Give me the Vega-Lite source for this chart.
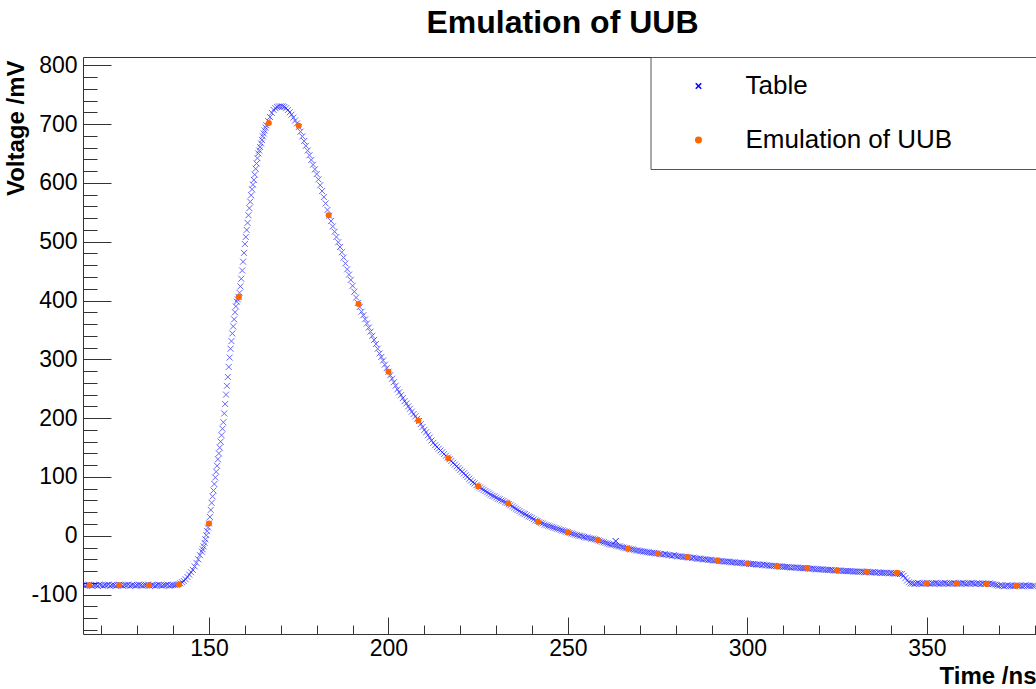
{
  "$schema": "https://vega.github.io/schema/vega-lite/v6.json",
  "autosize": "none",
  "width": 953,
  "height": 577,
  "padding": {"left": 83, "top": 57, "right": 0, "bottom": 55},
  "background": "white",
  "config": {
    "view": {"stroke": null},
    "font": "Liberation Sans",
    "axis": {"grid": false, "domainColor": "#333", "tickColor": "#333", "labelColor": "#000", "titleColor": "#000", "labelFont": "Liberation Sans", "titleFont": "Liberation Sans"}
  },
  "title": {
    "text": "Emulation of UUB",
    "anchor": "middle",
    "frame": "group",
    "font": "Liberation Sans",
    "fontSize": 32,
    "fontWeight": "bold",
    "color": "#000",
    "baseline": "alphabetic",
    "offset": 24,
    "dx": 3,
    "dy": 35
  },
  "datasets": {
    "table": [
      {"t":115,"v":-84},{"t":115.5,"v":-85},{"t":116,"v":-84},{"t":116.5,"v":-83},{"t":117,"v":-84},{"t":117.5,"v":-85},{"t":118,"v":-84},{"t":118.5,"v":-84},{"t":119,"v":-85},{"t":119.5,"v":-83},
      {"t":120,"v":-84},{"t":120.5,"v":-85},{"t":121,"v":-84},{"t":121.5,"v":-84},{"t":122,"v":-83},{"t":122.5,"v":-85},{"t":123,"v":-84},{"t":123.5,"v":-84},{"t":124,"v":-85},{"t":124.5,"v":-84},
      {"t":125,"v":-83},{"t":125.5,"v":-84},{"t":126,"v":-85},{"t":126.5,"v":-84},{"t":127,"v":-84},{"t":127.5,"v":-83},{"t":128,"v":-85},{"t":128.5,"v":-84},{"t":129,"v":-84},{"t":129.5,"v":-85},
      {"t":130,"v":-84},{"t":130.5,"v":-83},{"t":131,"v":-84},{"t":131.5,"v":-85},{"t":132,"v":-84},{"t":132.5,"v":-84},{"t":133,"v":-83},{"t":133.5,"v":-85},{"t":134,"v":-84},{"t":134.5,"v":-84},
      {"t":135,"v":-85},{"t":135.5,"v":-84},{"t":136,"v":-83},{"t":136.5,"v":-84},{"t":137,"v":-85},{"t":137.5,"v":-84},{"t":138,"v":-84},{"t":138.5,"v":-83},{"t":139,"v":-85},{"t":139.5,"v":-84},
      {"t":140,"v":-84},{"t":140.5,"v":-84},{"t":141,"v":-83},{"t":141.5,"v":-82},{"t":142,"v":-81},{"t":142.5,"v":-79},{"t":143,"v":-77},{"t":143.5,"v":-74},{"t":144,"v":-70},{"t":144.5,"v":-66},
      {"t":145,"v":-62},{"t":145.5,"v":-58},{"t":146,"v":-52},{"t":146.5,"v":-46},{"t":147,"v":-40},{"t":147.5,"v":-33},{"t":148,"v":-27},
      {"t":148.25,"v":-23},{"t":148.5,"v":-18},{"t":148.75,"v":-12},{"t":149,"v":-6},{"t":149.25,"v":1},{"t":149.5,"v":8},{"t":149.75,"v":14},
      {"t":150,"v":21},{"t":150.25,"v":32},{"t":150.5,"v":44},{"t":150.75,"v":56},{"t":151,"v":67},{"t":151.25,"v":77},{"t":151.5,"v":88},{"t":151.75,"v":99},
      {"t":152,"v":109},{"t":152.25,"v":119},{"t":152.5,"v":130},{"t":152.75,"v":140},{"t":153,"v":150},{"t":153.25,"v":160},{"t":153.5,"v":171},{"t":153.75,"v":182},
      {"t":154,"v":193},{"t":154.25,"v":208},{"t":154.5,"v":224},{"t":154.75,"v":240},{"t":155,"v":255},{"t":155.25,"v":270},{"t":155.5,"v":287},{"t":155.75,"v":303},
      {"t":156,"v":318},{"t":156.25,"v":331},{"t":156.5,"v":344},{"t":156.75,"v":356},{"t":157,"v":368},{"t":157.25,"v":380},{"t":157.5,"v":390},{"t":157.75,"v":398},
      {"t":158,"v":402},{"t":158.25,"v":406},{"t":158.5,"v":413},{"t":158.75,"v":424},{"t":159,"v":437},{"t":159.25,"v":451},{"t":159.5,"v":466},{"t":159.75,"v":481},
      {"t":160,"v":496},{"t":160.25,"v":508},{"t":160.5,"v":520},{"t":160.75,"v":532},{"t":161,"v":545},{"t":161.25,"v":557},{"t":161.5,"v":568},{"t":161.75,"v":579},
      {"t":162,"v":589},{"t":162.25,"v":597},{"t":162.5,"v":605},{"t":162.75,"v":614},{"t":163,"v":624},{"t":163.25,"v":633},{"t":163.5,"v":642},{"t":163.75,"v":650},
      {"t":164,"v":655},{"t":164.25,"v":661},{"t":164.5,"v":667},{"t":164.75,"v":673},{"t":165,"v":679},{"t":165.25,"v":684},{"t":165.5,"v":689},{"t":165.75,"v":694},
      {"t":166,"v":698},{"t":166.5,"v":705},{"t":167,"v":712},{"t":167.5,"v":719},{"t":168,"v":724},{"t":168.5,"v":727},{"t":169,"v":729},{"t":169.5,"v":730},
      {"t":170,"v":730},{"t":170.5,"v":730},{"t":171,"v":729},{"t":171.5,"v":727},{"t":172,"v":724},{"t":172.5,"v":720},{"t":173,"v":716},{"t":173.5,"v":711},{"t":174,"v":706},{"t":174.5,"v":701},
      {"t":175,"v":695},{"t":175.5,"v":687},{"t":176,"v":679},{"t":176.5,"v":671},{"t":177,"v":663},{"t":177.5,"v":655},{"t":178,"v":647},{"t":178.5,"v":639},{"t":179,"v":631},{"t":179.5,"v":623},
      {"t":180,"v":615},{"t":180.5,"v":606},{"t":181,"v":596},{"t":181.5,"v":586},{"t":182,"v":576},{"t":182.5,"v":565},{"t":183,"v":554},{"t":183.5,"v":544},{"t":184,"v":535},{"t":184.5,"v":526},
      {"t":185,"v":517},{"t":185.5,"v":508},{"t":186,"v":499},{"t":186.5,"v":491},{"t":187,"v":482},{"t":187.5,"v":473},{"t":188,"v":463},{"t":188.5,"v":453},{"t":189,"v":444},{"t":189.5,"v":435},
      {"t":190,"v":425},{"t":190.5,"v":415},{"t":191,"v":405},{"t":191.5,"v":396},{"t":192,"v":389},{"t":192.5,"v":381},{"t":193,"v":375},{"t":193.5,"v":368},{"t":194,"v":361},{"t":194.5,"v":354},
      {"t":195,"v":347},{"t":195.5,"v":340},{"t":196,"v":333},{"t":196.5,"v":326},{"t":197,"v":318},{"t":197.5,"v":310},{"t":198,"v":304},{"t":198.5,"v":298},{"t":199,"v":291},{"t":199.5,"v":285},
      {"t":200,"v":279},{"t":200.5,"v":273},{"t":201,"v":267},{"t":201.5,"v":261},{"t":202,"v":255},{"t":202.5,"v":249},{"t":203,"v":244},{"t":203.5,"v":239},{"t":204,"v":234},{"t":204.5,"v":229},
      {"t":205,"v":225},{"t":205.5,"v":220},{"t":206,"v":216},{"t":206.5,"v":211},{"t":207,"v":207},{"t":207.5,"v":203},{"t":208,"v":199},{"t":208.5,"v":195},{"t":209,"v":190},{"t":209.5,"v":185},
      {"t":210,"v":180},{"t":210.5,"v":176},{"t":211,"v":171},{"t":211.5,"v":167},{"t":212,"v":162},{"t":212.5,"v":158},{"t":213,"v":154},{"t":213.5,"v":151},{"t":214,"v":148},{"t":214.5,"v":145},
      {"t":215,"v":142},{"t":215.5,"v":139},{"t":216,"v":136},{"t":216.5,"v":133},{"t":217,"v":130},{"t":217.5,"v":127},{"t":218,"v":124},{"t":218.5,"v":121},{"t":219,"v":118},{"t":219.5,"v":115},
      {"t":220,"v":112},{"t":220.5,"v":109},{"t":221,"v":106},{"t":221.5,"v":103},{"t":222,"v":100},{"t":222.5,"v":97},{"t":223,"v":94},{"t":223.5,"v":91},{"t":224,"v":89},{"t":224.5,"v":86},
      {"t":225,"v":84},{"t":225.5,"v":82},{"t":226,"v":80},{"t":226.5,"v":78},{"t":227,"v":76},{"t":227.5,"v":74},{"t":228,"v":72},{"t":228.5,"v":70},{"t":229,"v":68},{"t":229.5,"v":67},
      {"t":230,"v":65},{"t":230.5,"v":63},{"t":231,"v":62},{"t":231.5,"v":60},{"t":232,"v":59},{"t":232.5,"v":57},{"t":233,"v":56},{"t":233.5,"v":54},{"t":234,"v":52},{"t":234.5,"v":50},
      {"t":235,"v":48},{"t":235.5,"v":46},{"t":236,"v":44},{"t":236.5,"v":42},{"t":237,"v":40},{"t":237.5,"v":38},{"t":238,"v":37},{"t":238.5,"v":35},{"t":239,"v":33},{"t":239.5,"v":32},
      {"t":240,"v":30},{"t":240.5,"v":28},{"t":241,"v":26},{"t":241.5,"v":25},{"t":242,"v":23},{"t":242.5,"v":22},{"t":243,"v":21},{"t":243.5,"v":19},{"t":244,"v":18},{"t":244.5,"v":17},
      {"t":245,"v":16},{"t":245.5,"v":15},{"t":246,"v":14},{"t":246.5,"v":13},{"t":247,"v":12},{"t":247.5,"v":11},{"t":248,"v":10},{"t":248.5,"v":9},{"t":249,"v":8},{"t":249.5,"v":7},
      {"t":250,"v":6},{"t":250.5,"v":5},{"t":251,"v":4},{"t":251.5,"v":3},{"t":252,"v":2},{"t":252.5,"v":1},{"t":253,"v":0},{"t":253.5,"v":0},{"t":254,"v":-1},{"t":254.5,"v":-2},
      {"t":255,"v":-3},{"t":255.5,"v":-3},{"t":256,"v":-4},{"t":256.5,"v":-5},{"t":257,"v":-5},{"t":257.5,"v":-6},{"t":258,"v":-7},{"t":258.5,"v":-8},{"t":259,"v":-9},{"t":259.5,"v":-10},
      {"t":260,"v":-11},{"t":260.5,"v":-12},{"t":261,"v":-13},{"t":261.5,"v":-14},{"t":262,"v":-15},{"t":262.5,"v":-15},{"t":263,"v":-16},{"t":263.5,"v":-17},{"t":264,"v":-18},{"t":264.5,"v":-18},
      {"t":265,"v":-19},{"t":265.5,"v":-20},{"t":266,"v":-21},{"t":266.5,"v":-21},{"t":267,"v":-22},{"t":267.5,"v":-23},{"t":268,"v":-23},{"t":268.5,"v":-24},{"t":269,"v":-25},{"t":269.5,"v":-25},
      {"t":270,"v":-26},{"t":270.5,"v":-26},{"t":271,"v":-27},{"t":271.5,"v":-27},{"t":272,"v":-28},{"t":272.5,"v":-28},{"t":273,"v":-29},{"t":273.5,"v":-29},{"t":274,"v":-29},{"t":274.5,"v":-30},
      {"t":275,"v":-30},{"t":275.5,"v":-31},{"t":276,"v":-31},{"t":276.5,"v":-32},{"t":277,"v":-31},{"t":277.5,"v":-32},{"t":278,"v":-33},{"t":278.5,"v":-33},{"t":279,"v":-34},{"t":279.5,"v":-33},
      {"t":280,"v":-34},{"t":280.5,"v":-35},{"t":281,"v":-35},{"t":281.5,"v":-35},{"t":282,"v":-36},{"t":282.5,"v":-36},{"t":283,"v":-36},{"t":283.5,"v":-37},{"t":284,"v":-37},{"t":284.5,"v":-38},
      {"t":285,"v":-37},{"t":285.5,"v":-38},{"t":286,"v":-39},{"t":286.5,"v":-39},{"t":287,"v":-39},{"t":287.5,"v":-40},{"t":288,"v":-40},{"t":288.5,"v":-40},{"t":289,"v":-41},{"t":289.5,"v":-41},
      {"t":290,"v":-41},{"t":290.5,"v":-42},{"t":291,"v":-42},{"t":291.5,"v":-42},{"t":292,"v":-43},{"t":292.5,"v":-43},{"t":293,"v":-43},{"t":293.5,"v":-44},{"t":294,"v":-44},{"t":294.5,"v":-44},
      {"t":295,"v":-44},{"t":295.5,"v":-45},{"t":296,"v":-45},{"t":296.5,"v":-45},{"t":297,"v":-46},{"t":297.5,"v":-46},{"t":298,"v":-46},{"t":298.5,"v":-46},{"t":299,"v":-47},{"t":299.5,"v":-47},
      {"t":300,"v":-47},{"t":300.5,"v":-48},{"t":301,"v":-48},{"t":301.5,"v":-48},{"t":302,"v":-48},{"t":302.5,"v":-49},{"t":303,"v":-49},{"t":303.5,"v":-49},{"t":304,"v":-50},{"t":304.5,"v":-49},
      {"t":305,"v":-50},{"t":305.5,"v":-50},{"t":306,"v":-51},{"t":306.5,"v":-51},{"t":307,"v":-51},{"t":307.5,"v":-51},{"t":308,"v":-52},{"t":308.5,"v":-52},{"t":309,"v":-52},{"t":309.5,"v":-52},
      {"t":310,"v":-53},{"t":310.5,"v":-53},{"t":311,"v":-53},{"t":311.5,"v":-53},{"t":312,"v":-54},{"t":312.5,"v":-54},{"t":313,"v":-54},{"t":313.5,"v":-54},{"t":314,"v":-54},{"t":314.5,"v":-55},
      {"t":315,"v":-55},{"t":315.5,"v":-55},{"t":316,"v":-55},{"t":316.5,"v":-55},{"t":317,"v":-56},{"t":317.5,"v":-56},{"t":318,"v":-56},{"t":318.5,"v":-56},{"t":319,"v":-57},{"t":319.5,"v":-57},
      {"t":320,"v":-57},{"t":320.5,"v":-57},{"t":321,"v":-57},{"t":321.5,"v":-58},{"t":322,"v":-58},{"t":322.5,"v":-58},{"t":323,"v":-58},{"t":323.5,"v":-58},{"t":324,"v":-59},{"t":324.5,"v":-59},
      {"t":325,"v":-59},{"t":325.5,"v":-59},{"t":326,"v":-59},{"t":326.5,"v":-60},{"t":327,"v":-60},{"t":327.5,"v":-60},{"t":328,"v":-60},{"t":328.5,"v":-60},{"t":329,"v":-60},{"t":329.5,"v":-61},
      {"t":330,"v":-61},{"t":330.5,"v":-61},{"t":331,"v":-61},{"t":331.5,"v":-61},{"t":332,"v":-61},{"t":332.5,"v":-62},{"t":333,"v":-62},{"t":333.5,"v":-61},{"t":334,"v":-62},{"t":334.5,"v":-62},
      {"t":335,"v":-62},{"t":335.5,"v":-62},{"t":336,"v":-63},{"t":336.5,"v":-62},{"t":337,"v":-63},{"t":337.5,"v":-63},{"t":338,"v":-63},{"t":338.5,"v":-63},{"t":339,"v":-63},{"t":339.5,"v":-64},
      {"t":340,"v":-63},{"t":340.5,"v":-64},{"t":341,"v":-64},{"t":341.5,"v":-64},{"t":342,"v":-64},{"t":342.5,"v":-65},{"t":343,"v":-65},{"t":343.5,"v":-68},{"t":344,"v":-72},{"t":344.5,"v":-76},
      {"t":345,"v":-79},{"t":345.5,"v":-81},{"t":346,"v":-81},{"t":346.5,"v":-82},{"t":347,"v":-81},{"t":347.5,"v":-80},{"t":348,"v":-81},{"t":348.5,"v":-82},{"t":349,"v":-81},{"t":349.5,"v":-81},
      {"t":350,"v":-80},{"t":350.5,"v":-81},{"t":351,"v":-82},{"t":351.5,"v":-81},{"t":352,"v":-81},{"t":352.5,"v":-80},{"t":353,"v":-81},{"t":353.5,"v":-82},{"t":354,"v":-81},{"t":354.5,"v":-81},
      {"t":355,"v":-80},{"t":355.5,"v":-81},{"t":356,"v":-82},{"t":356.5,"v":-81},{"t":357,"v":-81},{"t":357.5,"v":-80},{"t":358,"v":-81},{"t":358.5,"v":-82},{"t":359,"v":-81},{"t":359.5,"v":-81},
      {"t":360,"v":-80},{"t":360.5,"v":-81},{"t":361,"v":-82},{"t":361.5,"v":-81},{"t":362,"v":-81},{"t":362.5,"v":-80},{"t":363,"v":-81},{"t":363.5,"v":-82},{"t":364,"v":-81},{"t":364.5,"v":-81},
      {"t":365,"v":-82},{"t":365.5,"v":-81},{"t":366,"v":-82},{"t":366.5,"v":-81},{"t":367,"v":-82},{"t":367.5,"v":-81},{"t":368,"v":-82},{"t":368.5,"v":-82},{"t":369,"v":-83},{"t":369.5,"v":-84},
      {"t":370,"v":-85},{"t":370.5,"v":-84},{"t":371,"v":-85},{"t":371.5,"v":-86},{"t":372,"v":-85},{"t":372.5,"v":-84},{"t":373,"v":-85},{"t":373.5,"v":-85},{"t":374,"v":-86},{"t":374.5,"v":-85},
      {"t":375,"v":-84},{"t":375.5,"v":-85},{"t":376,"v":-85},{"t":376.5,"v":-86},{"t":377,"v":-85},{"t":377.5,"v":-84},{"t":378,"v":-85},{"t":378.5,"v":-85},{"t":379,"v":-86},{"t":379.5,"v":-85},
      {"t":380,"v":-85}
    ],
    "stray": [
      {"t":263.3,"v":-9}
    ],
    "uub": [
      {"t":116.67,"v":-84},{"t":125,"v":-84},{"t":133.33,"v":-84},{"t":141.67,"v":-83},{"t":150,"v":21},
      {"t":158.33,"v":406},{"t":166.67,"v":702},{"t":175,"v":697},{"t":183.33,"v":545},{"t":191.67,"v":394},
      {"t":200,"v":279},{"t":208.33,"v":196},{"t":216.67,"v":132},{"t":225,"v":84},{"t":233.33,"v":55},
      {"t":241.67,"v":24},{"t":250,"v":6},{"t":258.33,"v":-7},{"t":266.67,"v":-22},{"t":275,"v":-30},
      {"t":283.33,"v":-36},{"t":291.67,"v":-42},{"t":300,"v":-47},{"t":308.33,"v":-52},{"t":316.67,"v":-55},
      {"t":325,"v":-59},{"t":333.33,"v":-61},{"t":341.67,"v":-63},{"t":350,"v":-81},{"t":358.33,"v":-81},
      {"t":366.67,"v":-82},{"t":375,"v":-85}
    ]
  },
  "layer": [
    {
      "data": {"name": "table"},
      "mark": {"type": "point", "filled": false, "size": 36, "strokeWidth": 1, "opacity": 0.6, "clip": true},
      "encoding": {
        "x": {
          "field": "t", "type": "quantitative",
          "scale": {"domain": [114.9, 380.4], "nice": false, "zero": false},
          "axis": {"orient": "bottom", "values": [120,130,140,160,170,180,190,210,220,230,240,260,270,280,290,310,320,330,340,360,370,380], "tickSize": -9, "labels": false, "title": null, "domain": true}
        },
        "y": {
          "field": "v", "type": "quantitative",
          "scale": {"domain": [-167, 814], "nice": false, "zero": false},
          "axis": {"orient": "left", "values": [-160,-140,-120,-80,-60,-40,-20,20,40,60,80,120,140,160,180,220,240,260,280,320,340,360,380,420,440,460,480,520,540,560,580,620,640,660,680,720,740,760,780,800], "tickSize": -14, "labels": false, "title": null, "domain": true}
        },
        "color": {
          "datum": "Table", "type": "nominal",
          "scale": {"domain": ["Table", "Emulation of UUB"], "range": ["#0000ff", "#ff6600"]},
          "legend": {
            "orient": "none", "legendX": 567.5, "legendY": 0,
            "title": null, "direction": "vertical",
            "padding": 16, "rowPadding": 28,
            "fillColor": "white", "strokeColor": "#555",
            "labelFont": "Liberation Sans", "labelFontSize": 26, "labelColor": "#000", "labelLimit": 600,
            "labelExpr": "datum.label + '\u00a0\u00a0\u00a0\u00a0\u00a0\u00a0\u00a0\u00a0\u00a0\u00a0\u00a0\u00a0\u00a0\u00a0\u200b'",
            "symbolOffset": 19, "labelOffset": 34, "symbolSize": 30, "symbolOpacity": 1,
            "encode": {
              "symbols": {
                "update": {
                  "shape": {"signal": "datum.value === 'Table' ? 'M-1,-1L1,1M1,-1L-1,1' : 'circle'"},
                  "fill": {"signal": "datum.value === 'Table' ? 'transparent' : '#ff6600'"},
                  "stroke": {"signal": "datum.value === 'Table' ? '#8080ff' : '#ff6600'"},
                  "opacity": {"value": 1},
                  "strokeWidth": {"value": 1}
                }
              }
            }
          }
        },
        "shape": {
          "datum": "Table", "type": "nominal",
          "scale": {"domain": ["Table", "Emulation of UUB"], "range": ["M-1,-1L1,1M1,-1L-1,1", "circle"]},
          "legend": null
        }
      }
    },
    {
      "data": {"name": "stray"},
      "mark": {"type": "point", "filled": false, "size": 36, "strokeWidth": 1, "opacity": 0.9},
      "encoding": {
        "x": {
          "field": "t", "type": "quantitative",
          "axis": {"orient": "top", "ticks": false, "labels": false, "title": null, "domain": true, "minExtent": 0, "maxExtent": 0}
        },
        "y": {"field": "v", "type": "quantitative", "axis": null},
        "color": {"datum": "Table", "type": "nominal"},
        "shape": {"datum": "Table", "type": "nominal"}
      }
    },
    {
      "data": {"name": "uub"},
      "mark": {"type": "point", "filled": true, "size": 36, "opacity": 1},
      "encoding": {
        "x": {
          "field": "t", "type": "quantitative",
          "axis": {"orient": "bottom", "values": [150,200,250,300,350], "tickSize": -17, "labelPadding": 20, "labelFontSize": 23, "domain": false,
                   "title": "Time /ns", "titleFontSize": 24, "titleFontWeight": "bold", "titleX": 953, "titleY": 49, "titleAlign": "right", "titleBaseline": "alphabetic"}
        },
        "y": {
          "field": "v", "type": "quantitative",
          "axis": {"orient": "left", "values": [-100,0,100,200,300,400,500,600,700,800], "tickSize": -28, "labelPadding": 34, "labelFontSize": 23, "domain": false,
                   "labelExpr": "replace(datum.label, '\u2212', '-')",
                   "title": "Voltage /mV", "titleFontSize": 24, "titleFontWeight": "bold", "titleX": -60, "titleY": 3, "titleAngle": 270, "titleAlign": "right", "titleBaseline": "alphabetic"}
        },
        "color": {"datum": "Emulation of UUB", "type": "nominal"},
        "shape": {"datum": "Emulation of UUB", "type": "nominal"}
      }
    }
  ],
  "resolve": {"axis": {"x": "independent", "y": "independent"}}
}
